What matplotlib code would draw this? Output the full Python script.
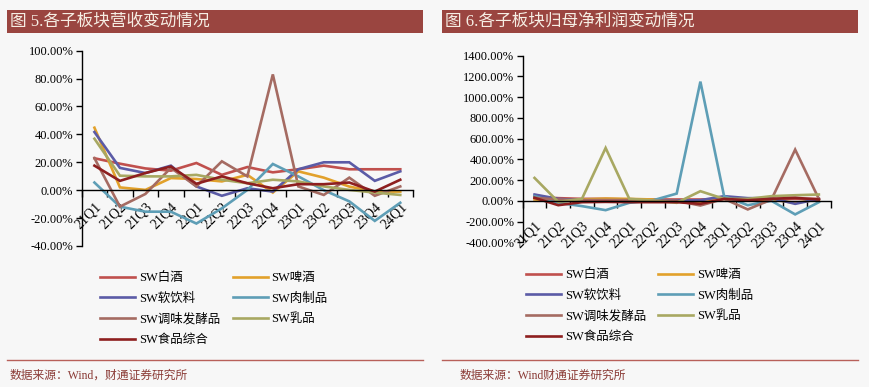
import matplotlib
matplotlib.use("Agg")
import matplotlib.pyplot as plt
from matplotlib.lines import Line2D
from matplotlib.patches import Rectangle
from matplotlib.ticker import FuncFormatter

plt.rcParams['font.family'] = ['Liberation Serif', 'Noto Sans CJK SC', 'DejaVu Sans']

quarters = ["21Q1", "21Q2", "21Q3", "21Q4", "22Q1", "22Q2", "22Q3",
            "22Q4", "23Q1", "23Q2", "23Q3", "23Q4", "24Q1"]
series_names = ["SW白酒", "SW啤酒", "SW软饮料", "SW肉制品", "SW调味发酵品", "SW乳品", "SW食品综合"]

# Revenue change (%)
rev_baijiu = [22.9, 19.0, 15.6, 14.0, 19.5, 11.0, 16.6, 12.8, 15.0, 17.6, 15.0, 15.0, 15.0]
rev_beer = [44.8, 2.0, 0.2, 8.7, 8.0, 6.3, 11.0, -1.7, 13.5, 9.0, 2.6, -1.0, -1.0]
rev_softdrink = [41.7, 16.0, 12.3, 17.6, 2.7, -4.0, 1.4, -1.0, 15.0, 20.0, 20.0, 6.7, 13.5]
rev_meat = [5.5, -11.8, -15.4, -15.4, -23.9, -13.0, 0.2, 18.8, 9.9, 0.0, -8.0, -22.0, -9.0]
rev_seasoning = [23.0, -11.8, -2.7, 16.0, 2.7, 20.7, 9.9, 83.0, 2.7, -3.4, 9.0, -4.0, 2.7]
rev_dairy = [36.9, 10.4, 9.9, 9.9, 11.0, 7.5, 5.0, 7.5, 6.3, 2.7, 0.2, -1.7, -3.4]
rev_food = [17.6, 6.7, 12.3, 17.0, 4.6, 9.9, 5.0, 1.4, 4.3, 4.3, 5.5, -1.0, 7.5]

# Net profit change (%)
np_baijiu = [38, 26, 19, 19, 13, 13, 13, 13, 19, 19, 19, 19, 19]
np_beer = [13, -10, 13, 22, 19, 13, -3, -19, 19, 6, 13, -19, 13]
np_softdrink = [61, 19, 6, 6, 6, 3, 3, 6, 45, 26, 26, -29, 19]
np_meat = [45, -19, -51, -90, -19, 5, 70, 1150, 45, -42, 0, -131, -13]
np_seasoning = [29, 13, 6, 6, 6, 0, 0, -45, 19, -83, 13, 494, 19]
np_dairy = [221, -10, 19, 510, 19, 3, -19, 93, 19, 19, 45, 54, 61]
np_food = [29, -42, -13, -10, -13, -13, -13, -29, 19, 6, 19, 29, 13]

rev_series = [rev_baijiu, rev_beer, rev_softdrink, rev_meat, rev_seasoning, rev_dairy, rev_food]
np_series = [np_baijiu, np_beer, np_softdrink, np_meat, np_seasoning, np_dairy, np_food]

colors = ["#C0504D", "#E2A12B", "#5B5BA6", "#5E9EB6", "#A56B62", "#A8A862", "#8E1F1F"]

BG = "#F7F7F7"
W, H = 870, 387
fig = plt.figure(figsize=(W / 100, H / 100), dpi=100, facecolor=BG)


def fx(px):
    return px / W


def fy(py):
    return 1 - py / H


# Title bars
titles = ["图 5.各子板块营收变动情况", "图 6.各子板块归母净利润变动情况"]
for x0, t in zip([7, 442], titles):
    fig.patches.append(Rectangle((fx(x0), fy(33)), fx(416), 23 / H, transform=fig.transFigure,
                                 facecolor="#9A4540", edgecolor="none", zorder=0))
    fig.text(fx(x0 + 3), fy(21.5), t, color="#F6EEE4", fontsize=12, va="center", ha="left",
             family=['Liberation Serif', 'Noto Sans CJK SC'])

# separator lines and footers
for x0, x1 in [(7, 423), (442, 858)]:
    fig.lines.append(Line2D([fx(x0), fx(x1)], [fy(360), fy(360)], transform=fig.transFigure,
                            color="#B8605A", lw=1.0))
fig.text(fx(10), fy(376), "数据来源：Wind，财通证券研究所", color="#8B3B36", fontsize=8.5, va="center")
fig.text(fx(460), fy(376), "数据来源：Wind财通证券研究所", color="#8B3B36", fontsize=8.5, va="center")


def make_axes(rect, data, ylim, ystep, xlabel_pad, legend_pos):
    ax = fig.add_axes(rect)
    ax.set_facecolor(BG)
    xs = list(range(len(quarters)))
    handles = []
    for vals, c, name in zip(data, colors, series_names):
        h, = ax.plot(xs, vals, color=c, lw=1.9, label=name, solid_joinstyle="miter")
        handles.append(h)
    ax.set_xlim(-0.5, len(quarters) - 0.5)
    ax.set_ylim(*ylim)
    ticks = list(range(int(ylim[0]), int(ylim[1]) + 1, ystep))
    ax.set_yticks(ticks)
    ax.yaxis.set_major_formatter(FuncFormatter(lambda v, p: f"{v:.2f}%"))
    for s in ["top", "right"]:
        ax.spines[s].set_visible(False)
    ax.spines["bottom"].set_position(("data", 0))
    ax.spines["left"].set_linewidth(1.0)
    ax.spines["bottom"].set_linewidth(1.0)
    ax.set_xticks([i - 0.5 for i in range(len(quarters) + 1)])
    ax.set_xticklabels([])
    ax.set_xticks(xs, quarters, minor=True)
    ax.tick_params(axis="x", which="major", direction="out", length=5, width=1)
    ax.tick_params(axis="x", which="minor", length=0, pad=xlabel_pad, labelsize=10)
    ax.tick_params(axis="y", direction="out", length=4, width=1, labelsize=9, pad=2)
    for lbl in ax.get_xticklabels(minor=True):
        lbl.set_rotation(45)
        lbl.set_ha("right")
        lbl.set_va("top")
        lbl.set_rotation_mode("anchor")
    order = [0, 2, 4, 6, 1, 3, 5]
    fig.legend([handles[i] for i in order], [series_names[i] for i in order],
               loc="upper left", bbox_to_anchor=legend_pos, bbox_transform=fig.transFigure,
               ncol=2, frameon=False, handlelength=2.8, handletextpad=0.3,
               labelspacing=0.68, columnspacing=1.0, borderpad=0, borderaxespad=0,
               prop={'family': ['Liberation Serif', 'Noto Sans CJK SC'], 'size': 9})
    return ax


make_axes([fx(81.7), fy(246), fx(413 - 81.7), (246 - 50.7) / H], rev_series,
          (-40, 100), 20, 7, (fx(100), fy(272)))
make_axes([fx(522.7), fy(242.3), fx(830.7 - 522.7), (242.3 - 55.7) / H], np_series,
          (-400, 1400), 200, 13, (fx(526), fy(269)))

fig.savefig("out.png", dpi=100, facecolor=BG)
